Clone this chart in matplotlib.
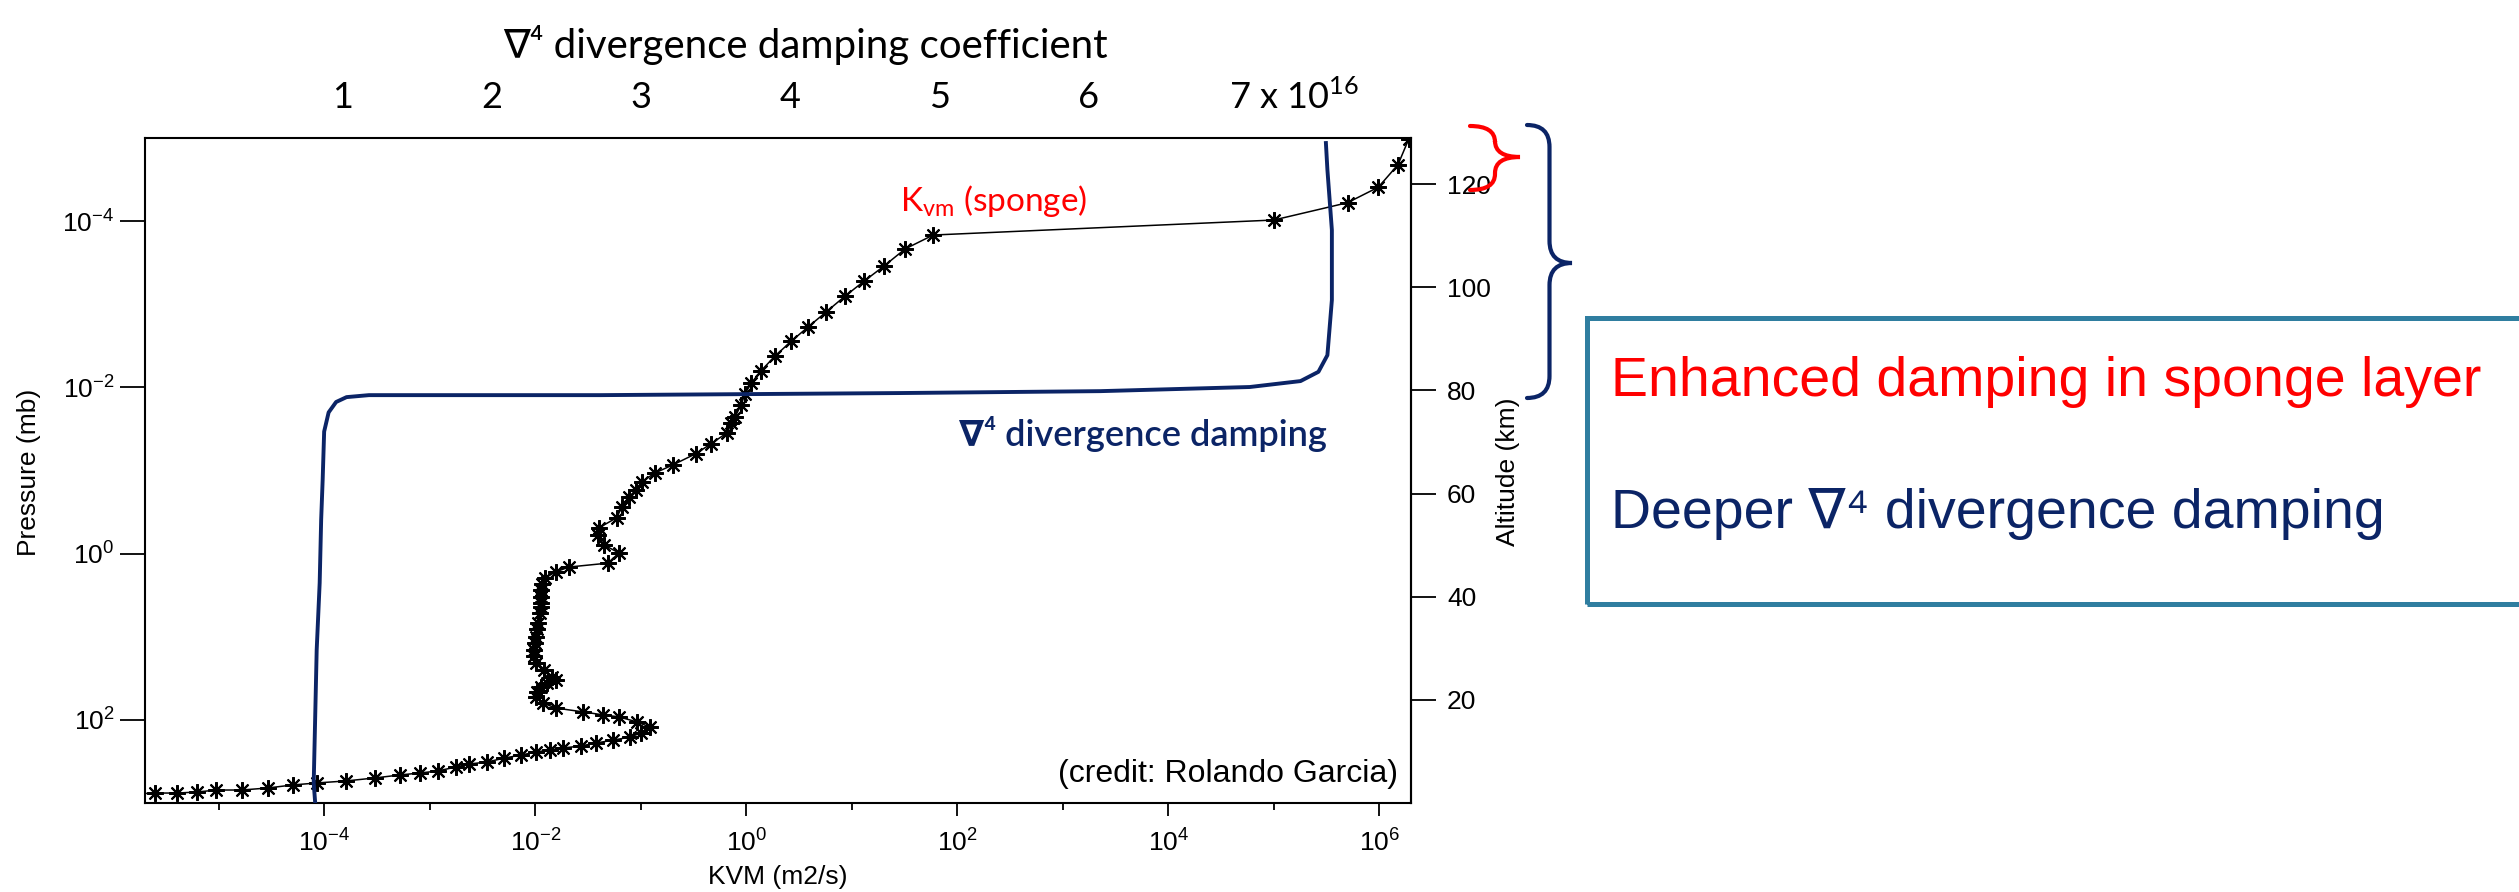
import matplotlib
matplotlib.use("Agg")
import matplotlib.pyplot as plt
import matplotlib.transforms as mtransforms
from matplotlib.path import Path
from matplotlib.patches import PathPatch, Rectangle
from matplotlib.ticker import NullLocator, NullFormatter
import numpy as np

W, H = 2519, 892

# K_vm profile: KVM (m2/s) against pressure (mb), top to bottom
kvm = [1.9e6, 1.5e6, 9.8e5, 5.0e5, 1.0e5, 59, 32, 20, 13, 8.6, 5.7, 3.8, 2.65, 1.87,
       1.38, 1.11, 0.97, 0.89, 0.78, 0.72, 0.66, 0.46, 0.33, 0.20, 0.136, 0.102,
       0.090, 0.077, 0.066, 0.059, 0.040, 0.039, 0.045, 0.062, 0.049, 0.0208, 0.0156,
       0.0123, 0.0115, 0.0113, 0.0112, 0.0113, 0.0113, 0.0110, 0.0106, 0.0104, 0.0101,
       0.0099, 0.0097, 0.0098, 0.0101, 0.0120, 0.0144, 0.0156, 0.0130, 0.0113, 0.0104,
       0.0101, 0.0118, 0.0156, 0.028, 0.0436, 0.062, 0.092, 0.122, 0.100, 0.079, 0.055,
       0.0375, 0.027, 0.0182, 0.0137, 0.0101, 0.0073, 0.0051, 0.0035, 0.00234, 0.00176,
       0.00119, 8.0e-4, 5.2e-4, 3.0e-4, 1.6e-4, 8.5e-5, 5.0e-5, 2.9e-5, 1.65e-5, 9.5e-6,
       6.2e-6, 4.0e-6, 2.5e-6, 1.5e-6]
kvm_p = [1.03e-5, 2.1e-5, 3.9e-5, 6.0e-5, 9.7e-5, 1.47e-4, 2.16e-4, 3.5e-4, 5.3e-4, 8.0e-4,
         1.24e-3, 1.9e-3, 2.8e-3, 4.2e-3, 6.3e-3, 8.9e-3, 1.2e-2, 1.63e-2, 2.27e-2, 2.7e-2,
         3.5e-2, 4.8e-2, 6.3e-2, 8.6e-2, 0.107, 0.137, 0.172, 0.208, 0.275, 0.37, 0.49,
         0.60, 0.79, 0.98, 1.30, 1.45, 1.66, 1.96, 2.3, 2.74, 3.3, 3.9, 4.4, 5.2, 6.8, 8.0,
         10.1, 12.0, 14.4, 17.0, 20.7, 25.0, 30.5, 33.1, 36.5, 40.3, 46, 53, 62.7, 72, 80,
         87, 92, 106, 122, 144, 161, 175, 190, 206, 218, 230, 244, 265, 288, 321, 340, 369,
         412, 436, 460, 500, 543, 574, 607, 660, 698, 698, 738, 759, 759, 780]

# del^4 divergence damping coefficient (x 1e16) against pressure (mb)
div4_coef = [0.82, 0.81, 0.82, 0.83, 0.85, 0.86, 0.87, 0.88, 0.91, 0.96, 1.03, 1.18,
             2.73, 4.74, 6.08, 7.08, 7.42, 7.54, 7.60, 7.63, 7.63, 7.60, 7.59]
div4_p = [1000, 574, 92, 14.4, 2.25, 0.39, 0.13, 0.034, 0.020, 0.015, 0.0131, 0.0124,
          0.0124, 0.0117, 0.0111, 0.0099, 0.0084, 0.0065, 0.0041, 8.9e-4, 1.28e-4, 2.4e-5,
          1.15e-5]

p_ticks = [1e-4, 1e-2, 1e0, 1e2]
kvm_ticks = [1e-4, 1e-2, 1e0, 1e2, 1e4, 1e6]
kvm_minor = [1e-5, 1e-3, 1e-1, 1e1, 1e3, 1e5]
alt_ticks = [20, 40, 60, 80, 100, 120]
top_values = [1, 2, 3, 4, 5, 6, 7]
top_labels = ["1", "2", "3", "4", "5", "6", "7 x 10$^\\mathdefault{16}$"]

plt.rcParams['font.family'] = ['Liberation Sans', 'DejaVu Sans']
navy = '#0b2466'
calibri = ['Lato', 'DejaVu Sans']

fig = plt.figure(figsize=(W / 100, H / 100), dpi=100)
ax = fig.add_axes([145 / W, (H - 803) / H, (1411 - 145) / W, (803 - 138) / H])

# main K_vm profile
ax.plot(kvm, kvm_p, color='black', lw=1.1, marker=(8, 2, 0), ms=12, mew=1.5, zorder=3)
ax.plot(kvm, kvm_p, ls='none', marker='o', ms=3.5, color='black', zorder=3)
ax.set_xscale('log')
ax.set_yscale('log')
ax.set_xlim(10 ** -5.70, 10 ** 6.30)
ax.set_ylim(1000, 1e-5)
ax.set_xticks(kvm_ticks)
ax.set_xticks(kvm_minor, minor=True)
ax.xaxis.set_minor_formatter(NullFormatter())
ax.set_yticks(p_ticks)
ax.yaxis.set_minor_locator(NullLocator())
ax.tick_params(axis='x', which='major', direction='out', length=9, width=1.3, labelsize=19, pad=10)
ax.tick_params(axis='x', which='minor', direction='out', length=5, width=1.3)
ax.tick_params(axis='y', direction='out', length=18, width=1.3, labelsize=19, pad=4)
for s in ax.spines.values():
    s.set_linewidth(1.5)

# altitude axis on the right
axr = ax.twinx()
axr.set_ylim(0, 7 * np.log(1e8))
axr.set_yticks(alt_ticks)
axr.tick_params(axis='y', direction='out', length=18, width=1.3, labelsize=19, pad=8)
for k, s in axr.spines.items():
    s.set_visible(k == 'right')
    s.set_linewidth(1.5)

# divergence damping coefficient on a top scale
axt = ax.twiny()
axt.set_xlim(-0.32, 8.16)
axt.plot(div4_coef, div4_p, color=navy, lw=2.8, zorder=2)
axt.set_xticks([])
for s in axt.spines.values():
    s.set_visible(False)

# axis labels
fig.text(29 / W, 1 - 472 / H, 'Pressure (mb)', rotation=90, ha='center', va='center', fontsize=19)
fig.text(778 / W, 1 - 877 / H, 'KVM (m2/s)', ha='center', va='center', fontsize=19)
fig.text(1508 / W, 1 - 472 / H, 'Altitude (km)', rotation=90, ha='center', va='center', fontsize=19)

# top scale labels and title
tr = mtransforms.blended_transform_factory(axt.transData, fig.transFigure)
for v, lab in zip(top_values, top_labels):
    if v < 7:
        fig.text(v, 1 - 97 / H, lab, transform=tr, ha='center', va='center', fontsize=26, family=calibri)
    else:
        fig.text(v - 0.06, 1 - 97 / H, lab, transform=tr, ha='left', va='center', fontsize=26, family=calibri)
fig.text(805 / W, 1 - 45 / H, '\u2207\u2074 divergence damping coefficient', ha='center', va='center',
         fontsize=29, family=calibri)

# annotations inside the plot
fig.text(900 / W, 1 - 201 / H, 'K$_\\mathdefault{vm}$ (sponge)', color='red', ha='left', va='center',
         fontsize=24, family=calibri)
fig.text(959 / W, 1 - 434 / H, '\u2207\u2074 divergence damping', color=navy, ha='left', va='center',
         fontsize=26, family=calibri, weight='semibold')
fig.text(1398 / W, 1 - 774 / H, '(credit: Rolando Garcia)', ha='right', va='center', fontsize=23)


def brace(x0, x1, yt, yb, ym, r, color, lw):
    xm = (x0 + x1) / 2
    pts = [(x0, yt), (xm, yt), (xm, yt + r), (xm, ym - r), (xm, ym), (x1, ym),
           (xm, ym), (xm, ym + r), (xm, yb - r), (xm, yb), (x0, yb)]
    codes = [Path.MOVETO, Path.CURVE3, Path.CURVE3, Path.LINETO, Path.CURVE3, Path.CURVE3,
             Path.CURVE3, Path.CURVE3, Path.LINETO, Path.CURVE3, Path.CURVE3]
    pts = [(x / W, 1 - y / H) for x, y in pts]
    fig.patches.append(PathPatch(Path(pts, codes), transform=fig.transFigure, fill=False,
                                 edgecolor=color, lw=lw, capstyle='round'))


brace(1470, 1520, 126, 190, 157, 16, 'red', 3)
brace(1527, 1572, 125, 398, 263, 22, navy, 3)

# text box on the right
fig.patches.append(Rectangle((1587 / W, 1 - 604 / H), 1.0, (604 - 318) / H, transform=fig.transFigure,
                             fill=False, edgecolor='#2f7ea0', lw=3.6))
fig.text(1611 / W, 1 - 382 / H, 'Enhanced damping in sponge layer', color='red', ha='left', va='center',
         fontsize=40)
fig.text(1611 / W, 1 - 514 / H, 'Deeper \u2207\u2074 divergence damping', color=navy, ha='left', va='center',
         fontsize=40)

fig.savefig('out.png', dpi=100)
